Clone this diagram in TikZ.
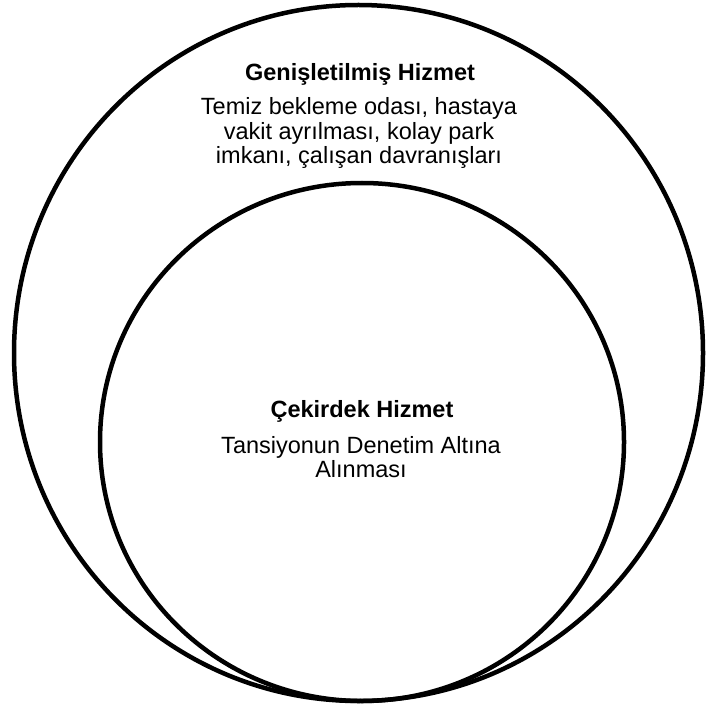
\documentclass[tikz,border=0pt]{standalone}
\usepackage{fontspec}
\setmainfont{Liberation Sans}
\begin{document}
\begin{tikzpicture}[x=1pt,y=-1pt,
  ring/.style={draw=black,line width=4.5pt},
  ttl/.style={font=\fontsize{23.5}{27}\selectfont\bfseries,anchor=base,inner sep=0pt},
  txt/.style={font=\fontsize{23.5}{27}\selectfont,anchor=base,inner sep=0pt}]
\useasboundingbox (0,0) rectangle (706,711);
\fill[white] (0,0) rectangle (706,711);
\draw[ring] (358.5,353) ellipse [x radius=344.5, y radius=348];
\draw[ring] (362,442) ellipse [x radius=262, y radius=259];
\node[ttl] (gt) at (360,81) {Genişletilmiş Hizmet};
\node[txt] (g1) at (359,115) {Temiz bekleme odası, hastaya};
\node[txt] (g2) at (359,139.5) {vakit ayrılması, kolay park};
\node[txt] (g3) at (359,164) {imkanı, çalışan davranışları};
\node[ttl] (ct) at (362,417) {Çekirdek Hizmet};
\node[txt] (c1) at (361,453) {Tansiyonun Denetim Altına};
\node[txt] (c2) at (361,477) {Alınması};
\end{tikzpicture}
\end{document}
